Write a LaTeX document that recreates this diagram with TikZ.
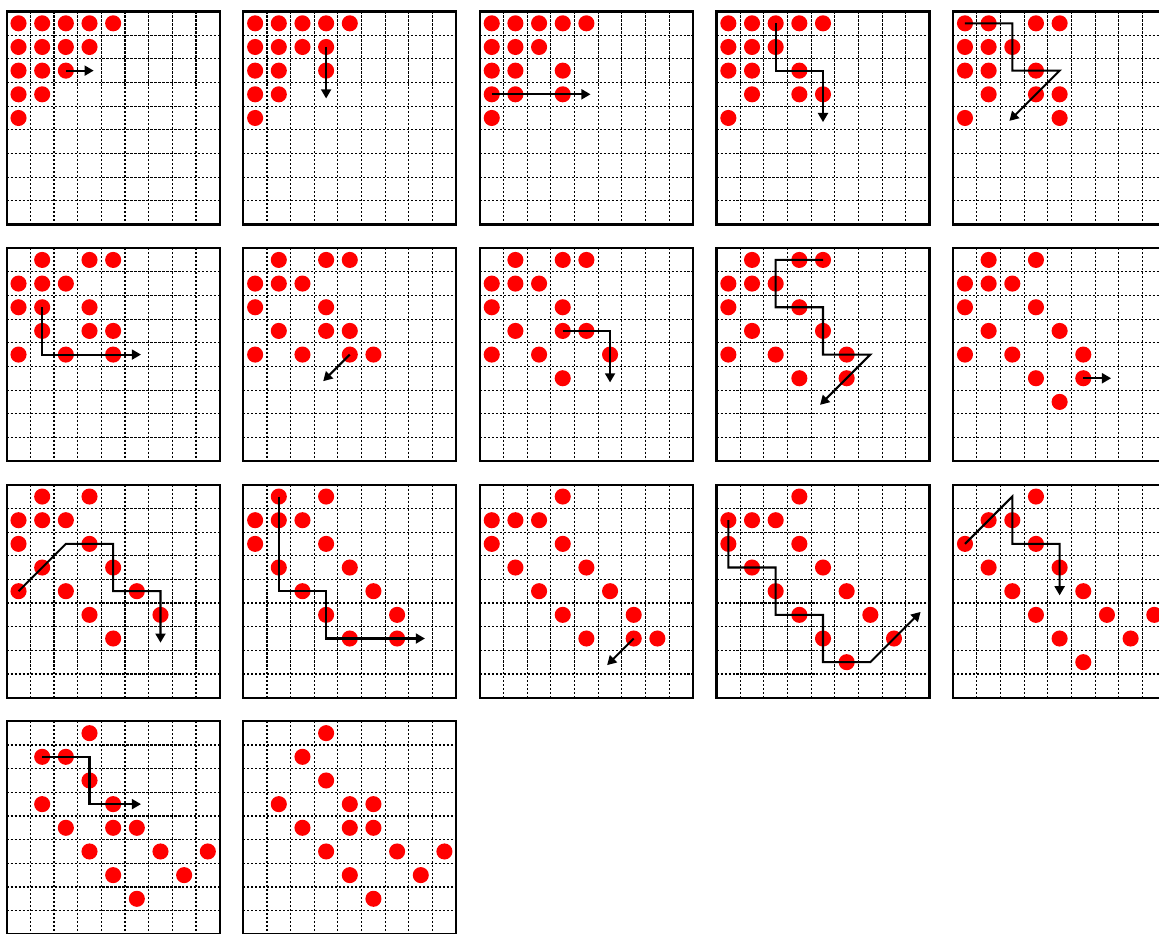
\documentclass[tikz,border=0pt]{standalone}
\usepackage{tikz}
\usetikzlibrary{arrows.meta}
\definecolor{pegred}{RGB}{255, 0, 0}

\newcommand{\board}[3]{%
	\begin{scope}[shift={(10*#1,10*#2)}]
		\foreach \k in {1,...,8} {
			\draw[cellline] (\k,0) -- (\k,9);
			\draw[cellline] (0,\k) -- (9,\k);
		}
		\foreach \px/\py in {#3}
			\fill[peg] (\px+0.5,\py+0.5) circle (0.17cm);
		\draw[boardframe] (0,0) rectangle (9,9);
	\end{scope}}
\newcommand{\hop}[3]{\draw[hoparr, shift={(10*#1+0.5,10*#2+0.5)}] #3;}

\begin{document}
\begin{tikzpicture}[
				x=0.5cm, y=-0.5cm,
				cellline/.style={black, line width=0.65pt, dash pattern=on 1.3pt off 1.1pt},
				peg/.style={fill=pegred},
				boardframe/.style={draw=black, line width=1.3pt},
				hoparr/.style={line width=1.25pt, -{Triangle[length=5.5pt, width=6pt]}, shorten >=-2.5pt}
				]
				\useasboundingbox (-0.283,-0.486) rectangle (48.70,38.95);
				\clip (-0.283,-0.486) rectangle (48.70,38.95);
				% first row
				\board{0}{0}{0/0,1/0,2/0,3/0,4/0, 0/1,1/1,2/1,3/1, 0/2,1/2,2/2, 0/3,1/3, 0/4}
				\hop{0}{0}{(2,2) -- (3,2)}
				\board{1}{0}{0/0,1/0,2/0,3/0,4/0, 0/1,1/1,2/1,3/1, 0/2,1/2,3/2, 0/3,1/3, 0/4}
				\hop{1}{0}{(3,1) -- (3,3)}
				\board{2}{0}{0/0,1/0,2/0,3/0,4/0, 0/1,1/1,2/1, 0/2,1/2,3/2, 0/3,1/3,3/3, 0/4}
				\hop{2}{0}{(0,3) -- (4,3)}
				\board{3}{0}{0/0,1/0,2/0,3/0,4/0, 0/1,1/1,2/1, 0/2,1/2,3/2, 1/3,3/3,4/3, 0/4}
				\hop{3}{0}{(2,0) -- (2,2) -- (4,2) -- (4,4)}
				\board{4}{0}{0/0,1/0,3/0,4/0, 0/1,1/1,2/1, 0/2,1/2,3/2, 1/3,3/3,4/3, 0/4,4/4}
				\hop{4}{0}{(0,0) -- (2,0) -- (2,2) -- (4,2) -- (2,4)}
				% second row
				\board{0}{1}{1/0,3/0,4/0, 0/1,1/1,2/1, 0/2,1/2,3/2, 1/3,3/3,4/3, 0/4,2/4,4/4}
				\hop{0}{1}{(1,2) -- (1,4) -- (5,4)}
				\board{1}{1}{1/0,3/0,4/0, 0/1,1/1,2/1, 0/2,3/2, 1/3,3/3,4/3, 0/4,2/4,4/4,5/4}
				\hop{1}{1}{(4,4) -- (3,5)}
				\board{2}{1}{1/0,3/0,4/0, 0/1,1/1,2/1, 0/2,3/2, 1/3,3/3,4/3, 0/4,2/4,5/4, 3/5}
				\hop{2}{1}{(3,3) -- (5,3) -- (5,5)}
				\board{3}{1}{1/0,3/0,4/0, 0/1,1/1,2/1, 0/2,3/2, 1/3,4/3, 0/4,2/4,5/4, 3/5,5/5}
				\hop{3}{1}{(4,0) -- (2,0) -- (2,2) -- (4,2) -- (4,4) -- (6,4) -- (4,6)}
				\board{4}{1}{1/0,3/0, 0/1,1/1,2/1, 0/2,3/2, 1/3,4/3, 0/4,2/4,5/4, 3/5,5/5, 4/6}
				\hop{4}{1}{(5,5) -- (6,5)}
				% third row
				\board{0}{2}{1/0,3/0, 0/1,1/1,2/1, 0/2,3/2, 1/3,4/3, 0/4,2/4,5/4, 3/5,6/5, 4/6}
				\hop{0}{2}{(0,4) -- (2,2) -- (4,2) -- (4,4) -- (6,4) -- (6,6)}
				\board{1}{2}{1/0,3/0, 0/1,1/1,2/1, 0/2,3/2, 1/3,4/3, 2/4,5/4, 3/5,6/5, 4/6,6/6}
				\hop{1}{2}{(1,0) -- (1,4) -- (3,4) -- (3,6) -- (7,6)}
				\board{2}{2}{3/0, 0/1,1/1,2/1, 0/2,3/2, 1/3,4/3, 2/4,5/4, 3/5,6/5, 4/6,6/6,7/6}
				\hop{2}{2}{(6,6) -- (5,7)}
				\board{3}{2}{3/0, 0/1,1/1,2/1, 0/2,3/2, 1/3,4/3, 2/4,5/4, 3/5,6/5, 4/6,7/6, 5/7}
				\hop{3}{2}{(0,1) -- (0,3) -- (2,3) -- (2,5) -- (4,5) -- (4,7) -- (6,7) -- (8,5)}
				\board{4}{2}{3/0, 1/1,2/1, 0/2,3/2, 1/3,4/3, 2/4,5/4, 3/5,6/5,8/5, 4/6,7/6, 5/7}
				\hop{4}{2}{(0,2) -- (2,0) -- (2,2) -- (4,2) -- (4,4)}
				% fourth row
				\board{0}{3}{3/0, 1/1,2/1, 3/2, 1/3,4/3, 2/4,4/4,5/4, 3/5,6/5,8/5, 4/6,7/6, 5/7}
				\hop{0}{3}{(1,1) -- (3,1) -- (3,3) -- (5,3)}
				\board{1}{3}{3/0, 2/1, 3/2, 1/3,4/3,5/3, 2/4,4/4,5/4, 3/5,6/5,8/5, 4/6,7/6, 5/7}
			\end{tikzpicture}
\end{document}
